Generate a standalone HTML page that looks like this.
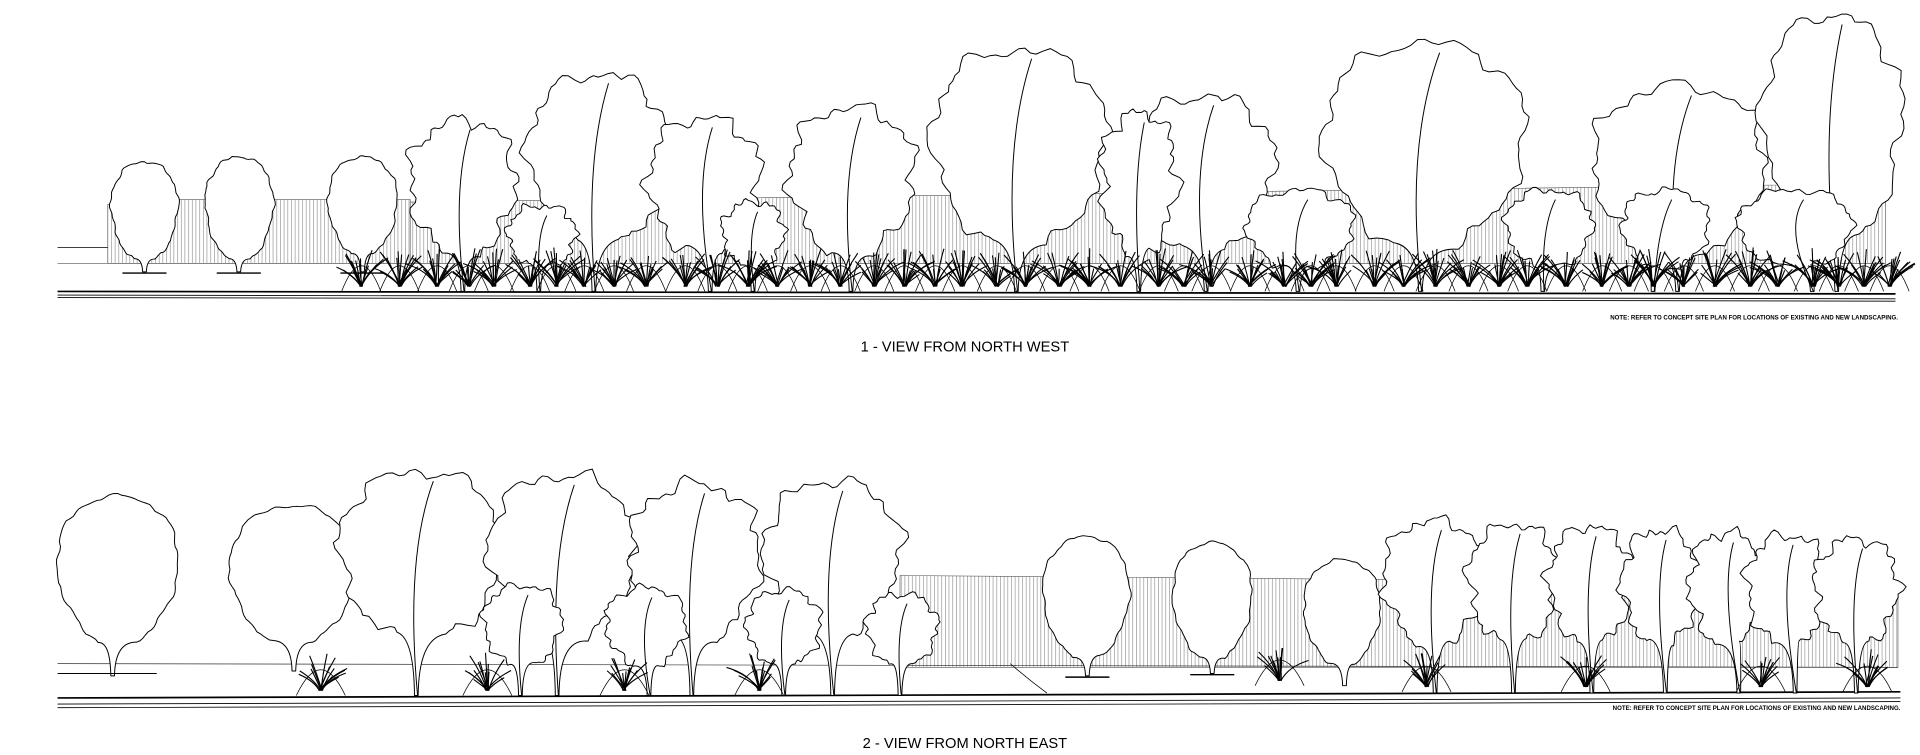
<!DOCTYPE html>
<html><head><meta charset="utf-8"><style>
html,body{margin:0;padding:0;background:#fff;width:1920px;height:755px;overflow:hidden}
svg{display:block}
text{font-family:"Liberation Sans",sans-serif;fill:#000}
</style></head><body>
<svg id="s" width="1920" height="755" viewBox="0 0 1568 616.6" preserveAspectRatio="none" xmlns="http://www.w3.org/2000/svg">
<defs><pattern id="h" width="3" height="10" patternUnits="userSpaceOnUse"><line x1="1" y1="0" x2="1" y2="10" stroke="#888" stroke-width="0.5"/></pattern></defs>
<g id="bg"></g>
<g id="g" fill="#fff" stroke="#000" stroke-width="0.8" stroke-linejoin="round"></g>
<text x="788" y="287" font-size="12" text-anchor="middle">1 - VIEW FROM NORTH WEST</text>
<text x="788" y="611" font-size="12" text-anchor="middle">2 - VIEW FROM NORTH EAST</text>
<text x="1550" y="261" font-size="5" font-weight="bold" text-anchor="end">NOTE:  REFER TO CONCEPT SITE PLAN FOR LOCATIONS OF EXISTING AND NEW LANDSCAPING.</text>
<text x="1552" y="580" font-size="5" font-weight="bold" text-anchor="end">NOTE:  REFER TO CONCEPT SITE PLAN FOR LOCATIONS OF EXISTING AND NEW LANDSCAPING.</text>
</svg>
<script>
var seed=7;function r(){seed=(seed*16807)%2147483647;return seed/2147483647;}
var G=document.getElementById('g'),B=document.getElementById('bg'),NS='http://www.w3.org/2000/svg';
function el(p,t,a){var e=document.createElementNS(NS,t);for(var k in a)e.setAttribute(k,a[k]);p.appendChild(e);return e;}
el(B,'polygon',{points:'88,167 145,167 145,163 335,163 335,215 88,215',fill:'url(#h)',stroke:'#555','stroke-width':0.5});
el(B,'polygon',{points:'335,165 1540,150 1540,215 335,215',fill:'url(#h)',stroke:'#555','stroke-width':0.5});
el(B,'polygon',{points:'735,470 1100,473 1550,478 1550,545 735,545',fill:'url(#h)',stroke:'#555','stroke-width':0.5});
el(B,'line',{x1:47,y1:202,x2:88,y2:202,stroke:'#000','stroke-width':0.6});
el(B,'line',{x1:47,y1:215,x2:1540,y2:215,stroke:'#555','stroke-width':0.5});
el(B,'line',{x1:47,y1:542,x2:1550,y2:545,stroke:'#333','stroke-width':0.6});
[[47,238,1548,240],[47,241,1548,244],[47,243,1548,246]].forEach(function(l,i){el(B,'line',{x1:l[0],y1:l[1],x2:l[2],y2:l[3],stroke:'#000','stroke-width':i?0.7:1.4});});
[[47,570,1552,565],[47,575,1552,570],[47,578,1552,573]].forEach(function(l,i){el(B,'line',{x1:l[0],y1:l[1],x2:l[2],y2:l[3],stroke:'#000','stroke-width':i?0.7:1.4});});
function tree(cx,x0,x1,top,bot,ground,jag){
 var rx=(x1-x0)/2,ccx=(x0+x1)/2,ry=(bot-top)/2,cy=top+ry;
 var p1=r()*6,p2=r()*6,p3=r()*6;
 var pts=[],n=90;
 for(var i=0;i<=n;i++){var th=Math.PI*1.38-i/n*Math.PI*1.76;
  var s=Math.sin(th),c=Math.cos(th);
  var w=1+0.15*s;
  var j=jag*(0.5*Math.sin(th*7+p1)+0.35*Math.sin(th*13+p2)+0.25*Math.sin(th*23+p3))+jag*0.3*(r()-0.5);
  pts.push([ccx+(rx+j)*c*w,cy-(ry+j)*s]);}
 var d='M'+(cx-1.5)+','+ground+' Q'+(cx-2)+','+(bot-4)+' '+pts[0][0].toFixed(1)+','+pts[0][1].toFixed(1);
 for(i=1;i<pts.length;i++)d+=' L'+pts[i][0].toFixed(1)+','+pts[i][1].toFixed(1);
 d+=' Q'+(cx+2)+','+(bot-4)+' '+(cx+1.5)+','+ground+'Z';
 el(G,'path',{d:d});
 if(jag>3){el(G,'path',{d:'M'+(ccx+rx*0.15)+','+(top+8)+' Q'+(ccx-rx*0.2)+','+((top+bot)/2)+' '+(cx+1)+','+ground,fill:'none'});}
}
function egg(cx,x0,x1,top,bot,ground){tree(cx,x0,x1,top,bot,ground,1.5);
 el(G,'line',{x1:cx-18,y1:ground+1,x2:cx+18,y2:ground+1,'stroke-width':1.2});}
function shrub(cx,base,h,w,k){
 el(G,'path',{d:'M'+(cx-w)+','+base+' Q'+cx+','+(base-h*1.4)+' '+(cx+w)+','+base,fill:'none','stroke-width':0.6});
 for(var i=0;i<k;i++){var a=-Math.PI/2+(r()-0.5)*2.0,l=h*(0.4+r()*0.6);
  var x2=cx+Math.cos(a)*l*1.1,y2=base-6+Math.sin(a)*l;
  el(G,'path',{d:'M'+(cx+(r()-0.5)*3)+','+(base-4)+' Q'+(cx+(x2-cx)*0.3)+','+(base-l*0.6)+' '+x2.toFixed(1)+','+y2.toFixed(1),fill:'none','stroke-width':0.9});}
}
egg(118,91,145,132,215,222);egg(195,168,223,128,215,222);egg(296,268,324,128,210,222);
var T1=[[378,335,420,98,210],[485,432,545,60,205],[580,530,620,96,210],[695,645,746,88,210],[830,762,902,40,205],[985,925,1040,78,210],[1160,1082,1245,35,205],[1370,1302,1440,70,210],[1500,1440,1552,12,205],[930,900,960,92,210]];
T1.forEach(function(t){tree(t[0],t[1],t[2],t[3],t[4],238,7);});
[[440,415,470,168,220],[615,590,640,165,220],[1060,1018,1105,155,220],[1260,1230,1300,155,220],[1350,1325,1395,155,220],[1480,1420,1512,155,220]].forEach(function(t){tree(t[0],t[1],t[2],t[3],t[4],238,4);});
for(var x=295;x<1545;x+=20+r()*12){shrub(x,238,30,16,16);}
tree(92,47,145,405,528,552,2);el(G,'line',{x1:47,y1:550,x2:128,y2:550});
tree(240,188,290,413,528,548,2);
[[340,278,410,385,525],[455,400,520,388,525],[565,515,620,395,525],[680,625,735,393,525]].forEach(function(t){tree(t[0],t[1],t[2],t[3],t[4],568,7);});
[[425,395,458,478,545],[530,495,560,480,545],[640,610,670,482,545],[735,708,765,485,545]].forEach(function(t){tree(t[0],t[1],t[2],t[3],t[4],568,4);});
egg(888,852,922,438,540,552);egg(990,958,1022,443,540,550);tree(1098,1065,1127,457,545,560,1.5);
[[1172,1130,1212,425,528],[1236,1200,1272,428,528],[1300,1265,1332,430,528],[1360,1325,1387,433,528],[1420,1380,1442,435,528],[1466,1427,1492,437,528],[1516,1482,1550,440,528]].forEach(function(t){tree(t[0],t[1],t[2],t[3],t[4],566,6);});
[[262,568],[398,568],[510,568],[620,568],[1045,560],[1165,565],[1295,565],[1438,565],[1525,565]].forEach(function(s){shrub(s[0],s[1],30,20,14);});
el(G,'path',{d:'M825,542 Q840,555 855,566',fill:'none','stroke-width':0.6});
</script>
</body></html>
